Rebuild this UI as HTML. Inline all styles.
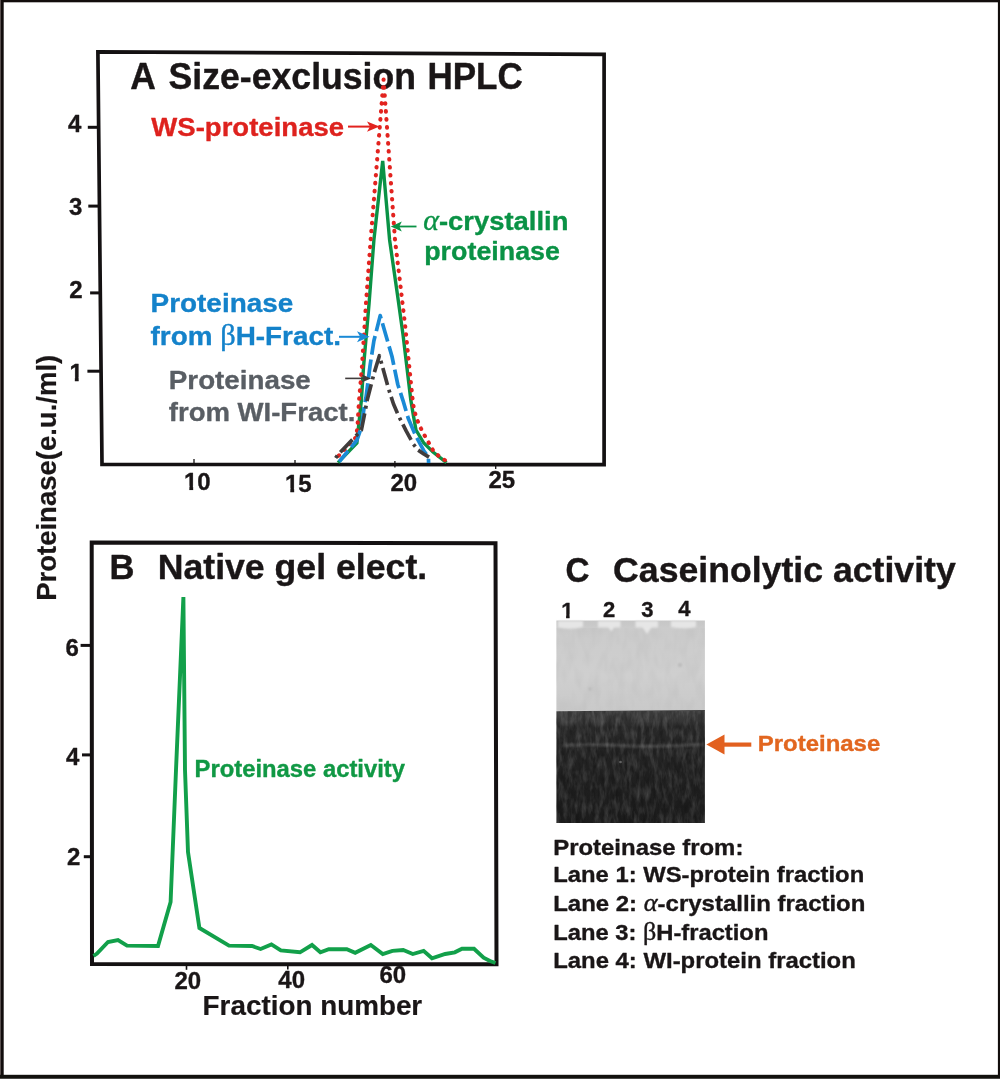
<!DOCTYPE html>
<html lang="en">
<head>
<meta charset="utf-8">
<title>Proteinase figure</title>
<style>
  html, body { margin: 0; padding: 0; background: #ffffff; }
  body { width: 1000px; height: 1079px; overflow: hidden; }
  svg { display: block; }
  text { font-family: "Liberation Sans", Arial, Helvetica, sans-serif; font-weight: bold; }
  .sym { font-family: "Liberation Serif", "DejaVu Serif", serif; font-weight: normal; }
  text { stroke-width: 0.35px; stroke-linejoin: round; }
  .k { fill: #1a1617; stroke: #1a1617; }
  .red { fill: #de221e; stroke: #de221e; }
  .grn { fill: #0a9245; stroke: #0a9245; }
  .blu { fill: #1482ca; stroke: #1482ca; }
  .gry { fill: #595e64; stroke: #595e64; }
  .org { fill: #e2661f; stroke: #e2661f; }
  .sym { stroke-width: 0.4px; }
  .title { font-size: 36px; stroke-width: 0.4px; }
  .lab { font-size: 26.6px; stroke-width: 0.35px; }
  .tick { font-size: 24px; stroke-width: 0.12px; }
  .body { font-size: 22.7px; stroke-width: 0.1px; }
</style>
</head>
<body>
<svg width="1000" height="1079" viewBox="0 0 1000 1079">
  <defs>
    <linearGradient id="gelLight" x1="0" y1="0" x2="0" y2="1">
      <stop offset="0" stop-color="#c6c6c6"/>
      <stop offset="0.08" stop-color="#cbcbcb"/>
      <stop offset="0.6" stop-color="#cfcfcf"/>
      <stop offset="1" stop-color="#c9c9c9"/>
    </linearGradient>
    <linearGradient id="gelDark" x1="0" y1="0" x2="0" y2="1">
      <stop offset="0" stop-color="#3f3f3f"/>
      <stop offset="0.10" stop-color="#363636"/>
      <stop offset="0.15" stop-color="#282828"/>
      <stop offset="0.32" stop-color="#252525"/>
      <stop offset="0.6" stop-color="#202020"/>
      <stop offset="1" stop-color="#1c1c1c"/>
    </linearGradient>
    <clipPath id="one" clipPathUnits="userSpaceOnUse">
      <path d="M-1 -20 H16 V-3.8 H9.15 V1 H5.35 V-3.8 H-1 Z"/>
    </clipPath>
    <filter id="grain" x="0" y="0" width="100%" height="100%">
      <feTurbulence type="fractalNoise" baseFrequency="0.22 0.07" numOctaves="3" seed="7" result="n"/>
      <feColorMatrix in="n" type="matrix" values="0 0 0 0 1  0 0 0 0 1  0 0 0 0 1  0.32 0 0 0 -0.13"/>
    </filter>
    <filter id="grainD" x="0" y="0" width="100%" height="100%">
      <feTurbulence type="fractalNoise" baseFrequency="0.25 0.08" numOctaves="3" seed="11" result="n"/>
      <feColorMatrix in="n" type="matrix" values="0 0 0 0 0  0 0 0 0 0  0 0 0 0 0  0.5 0 0 0 -0.2"/>
    </filter>
    <filter id="bandblur" filterUnits="userSpaceOnUse" x="556" y="734" width="150" height="22">
      <feGaussianBlur stdDeviation="1.6 1.1"/>
    </filter>
    <filter id="grainL" x="0" y="0" width="100%" height="100%">
      <feTurbulence type="fractalNoise" baseFrequency="0.12 0.05" numOctaves="2" seed="5" result="n"/>
      <feColorMatrix in="n" type="matrix" values="0 0 0 0 0.35  0 0 0 0 0.35  0 0 0 0 0.35  0.3 0 0 0 -0.11"/>
    </filter>
    <filter id="soft" x="-5%" y="-20%" width="110%" height="140%">
      <feGaussianBlur stdDeviation="1.1"/>
    </filter>
  </defs>

  <!-- page background and outer border -->
  <rect x="0" y="0" width="1000" height="1079" fill="#ffffff"/>
  <rect x="0" y="0" width="1000" height="2.3" fill="#120d0c"/>
  <rect x="0" y="0" width="3.7" height="1079" fill="#120d0c"/>
  <rect x="0" y="0" width="1" height="1079" fill="#5a5150"/>
  <rect x="997.9" y="0" width="2.1" height="1079" fill="#120d0c"/>
  <rect x="0" y="1074.8" width="1000" height="4.2" fill="#12110d"/>
  <rect x="0" y="1078" width="1000" height="1" fill="#4a4a47"/>

  <g id="figure">
  <!-- ================= PANEL A ================= -->
  <g id="panelA">
    <polygon points="97.9,51.8 604.1,54.3 604.1,464.7 102,464.4" fill="none" stroke="#141112" stroke-width="3.7" stroke-linejoin="miter"/>
    <!-- y ticks -->
    <g stroke="#141112" stroke-width="3">
      <line x1="87.8" y1="127.3" x2="98" y2="127.3"/>
      <line x1="88.3" y1="206.1" x2="99" y2="206.1"/>
      <line x1="90.1" y1="292.9" x2="100" y2="292.9"/>
      <line x1="87.4" y1="371.2" x2="101" y2="371.2"/>
    </g>
    <!-- x ticks (inside) -->
    <g stroke="#141112" stroke-width="1.3">
      <line x1="194" y1="459" x2="194" y2="464"/>
      <line x1="295" y1="460" x2="295" y2="464"/>
      <line x1="394.9" y1="461" x2="394.9" y2="467.6"/>
      <line x1="495.7" y1="464" x2="495.7" y2="469"/>
    </g>
    <g class="tick k">
      <text x="68" y="131.8">4</text>
      <text x="69" y="214.8">3</text>
      <text x="69.3" y="298">2</text>
      <g transform="translate(69.5 381.4)" clip-path="url(#one)"><text x="0" y="0">1</text></g>
      <g transform="translate(184 489.5)" clip-path="url(#one)"><text x="0" y="0">1</text></g><text x="197.35" y="489.5">0</text>
      <g transform="translate(285 492)" clip-path="url(#one)"><text x="0" y="0">1</text></g><text x="298.35" y="492">5</text>
      <text x="390.5" y="491">20</text>
      <text x="488.5" y="487.5">25</text>
    </g>

    <!-- title -->
    <text class="title k" x="130.3" y="88.7" textLength="25.6" lengthAdjust="spacingAndGlyphs">A</text>
    <text class="title k" x="168.6" y="88.7" textLength="247.4" lengthAdjust="spacingAndGlyphs">Size-exclusion</text>
    <text class="title k" x="427.4" y="88.7" textLength="95.4" lengthAdjust="spacingAndGlyphs">HPLC</text>

    <!-- curves -->
    <!-- green solid -->
    <polyline fill="none" stroke="#0a9245" stroke-width="3.4" stroke-linejoin="miter" stroke-miterlimit="10"
      points="338,462.6 356.9,443 358.2,430 361.4,400 363.6,366 369.1,303 373.9,240 382.7,161 389.6,240 397.5,295 403,334.5 410.8,400 413.4,415.6 416,430 423.8,443 433,452 446.5,462.6"/>
    <!-- red dotted -->
    <polyline fill="none" stroke="#e2231f" stroke-width="4.1" stroke-dasharray="0.5 7.5" stroke-dashoffset="3.77" stroke-linecap="round" stroke-linejoin="round"
      points="335.8,458.8 356.3,437 357.5,426 359,401 362,366 366,303 370.4,243 383.6,79.5 395,240 400.6,287 405.4,328 410,374 413.2,405 416,417 418.6,423.4 421.9,430.6 425.8,437.7 430,444.9 433.6,451.4 439.4,456.6 446.5,461.2"/>
    <!-- blue dashed -->
    <polyline fill="none" stroke="#1a8ad6" stroke-width="3.7" stroke-dasharray="19 5" stroke-dashoffset="5.2" stroke-linejoin="round"
      points="339.3,461.6 357,440 361.5,427 364.5,404.5 366,397.5 370,366 373.9,340.8 380.2,315.6 392,356.5 397.8,384.5 403,400.6 408.2,418.2 416,436.4 423.8,450.7 428.4,457.2 428.6,463"/>
    <!-- gray dash-dot -->
    <polyline fill="none" stroke="#403c3c" stroke-width="3.7" stroke-dasharray="17.5 5 3 4.5" stroke-dashoffset="22.0" stroke-linejoin="round"
      points="335.4,458.5 338,454.6 354.3,437.7 361.4,430 364,417 367.2,400 373.9,373.9 379.4,355.7 388.8,389.6 393.5,404 399.1,417 406.3,431.2 413.4,444.2 418,450 423.8,454 429,457.2"/>

    <!-- labels -->
    <text class="lab red" x="151.3" y="135.6" textLength="192.8" lengthAdjust="spacingAndGlyphs">WS-proteinase</text>
    <g stroke="#e2231f" fill="#e2231f">
      <line x1="348" y1="126.6" x2="372" y2="126.6" stroke-width="2"/>
      <path d="M379.5 126.6 L367 121.4 L370 126.6 L367 131.8 Z" stroke="none"/>
    </g>

    <text class="lab grn" x="423.3" y="229.6" textLength="145.1" lengthAdjust="spacingAndGlyphs"><tspan class="sym" font-size="29" font-style="italic">α</tspan>-crystallin</text>
    <text class="lab grn" x="424.2" y="260.1" textLength="135.8" lengthAdjust="spacingAndGlyphs">proteinase</text>
    <g stroke="#0a9245" fill="#0a9245">
      <line x1="397" y1="226.5" x2="416.5" y2="226.5" stroke-width="1.8"/>
      <path d="M390.8 226.5 L401.8 221.5 L399.3 226.5 L401.8 231.5 Z" stroke="none"/>
    </g>

    <text class="lab blu" x="150.5" y="311.6" textLength="142.8" lengthAdjust="spacingAndGlyphs">Proteinase</text>
    <text class="lab blu" x="150.5" y="344.8" textLength="190.5" lengthAdjust="spacingAndGlyphs">from <tspan class="sym" font-size="29">β</tspan>H-Fract.</text>
    <g stroke="#1a8ad6" fill="#1a8ad6">
      <line x1="339" y1="336.8" x2="362" y2="336.8" stroke-width="2"/>
      <path d="M369.6 336.8 L357 331.3 L360.2 336.8 L357 342.3 Z" stroke="none"/>
    </g>

    <text class="lab gry" x="168.8" y="389.3" textLength="142" lengthAdjust="spacingAndGlyphs">Proteinase</text>
    <text class="lab gry" x="168.8" y="420.6" textLength="186.5" lengthAdjust="spacingAndGlyphs">from WI-Fract.</text>
    <g stroke="#403c3c" fill="#403c3c">
      <line x1="345.2" y1="378.4" x2="365" y2="378.4" stroke-width="1.6"/>
      <path d="M371 378.4 L361.5 374.2 L364 378.4 L361.5 382.6 Z" stroke="none"/>
    </g>
  </g>

  <!-- shared y-axis label -->
  <text class="lab k" style="font-size:27.8px;stroke-width:0.2px" transform="translate(55.5 600.8) rotate(-90)" textLength="246" lengthAdjust="spacingAndGlyphs">Proteinase(e.u./ml)</text>

  <!-- ================= PANEL B ================= -->
  <g id="panelB">
    <polygon points="91.7,542.5 495.5,543.3 496.5,964.2 92,964.1" fill="none" stroke="#141112" stroke-width="4" stroke-linejoin="miter"/>
    <g stroke="#141112" stroke-width="3">
      <line x1="80.6" y1="645.4" x2="91" y2="645.4"/>
      <line x1="82" y1="754.9" x2="91" y2="754.9"/>
      <line x1="83.8" y1="856.7" x2="91" y2="856.7"/>
    </g>
    <g stroke="#141112" stroke-width="1.6">
      <line x1="186.5" y1="965" x2="186.5" y2="969.8"/>
      <line x1="287.8" y1="965" x2="287.8" y2="969.5"/>
    </g>
    <g class="tick k">
      <text x="65.5" y="656">6</text>
      <text x="66" y="764.6">4</text>
      <text x="67" y="864.6">2</text>
      <text x="174.5" y="989">20</text>
      <text x="278.3" y="988.3">40</text>
      <text x="379.5" y="982.5">60</text>
    </g>
    <text class="title k" style="font-size:35.2px" x="109.4" y="578.5" textLength="25" lengthAdjust="spacingAndGlyphs">B</text>
    <text class="title k" style="font-size:35.2px" x="157.7" y="578.5" textLength="269.5" lengthAdjust="spacingAndGlyphs">Native gel elect.</text>

    <polyline fill="none" stroke="#12a04a" stroke-width="3.9" stroke-linejoin="miter" stroke-miterlimit="10"
      points="93.5,956 97,953.6 108,942 118,940 127,945.6 158,946 170.6,902 176,770 183.4,597 185,770 188,852 199.4,928 229,945.6 252,946 260.6,949 271.4,944.4 280.8,950.4 300,952.3 312,945 320.4,952.3 328.8,949.2 346.8,949.2 355.2,952.8 370.8,945 382.8,954 392.4,950.9 403.2,950 412.8,954 423.6,950.9 432,958.3 445.2,954 454.8,952.3 462,948.7 474,948.7 483.6,957.6 490,961 495.5,963"/>

    <text class="grn" x="194.5" y="777.1" font-size="23.3" textLength="210.5" lengthAdjust="spacingAndGlyphs" style="fill:#109844;stroke:#109844">Proteinase activity</text>
    <text class="lab k" style="font-size:27.2px;stroke-width:0.2px" x="202.6" y="1014.7" textLength="219.6" lengthAdjust="spacingAndGlyphs">Fraction number</text>
  </g>

  <!-- ================= PANEL C ================= -->
  <g id="panelC">
    <text class="title k" style="font-size:35.2px" x="565.6" y="581.8" textLength="24" lengthAdjust="spacingAndGlyphs">C</text>
    <text class="title k" style="font-size:35.2px" x="613.1" y="581.8" textLength="342.7" lengthAdjust="spacingAndGlyphs">Caseinolytic activity</text>
    <g class="k" font-size="22">
      <g transform="translate(561.2 618) scale(0.9167)" clip-path="url(#one)"><text x="0" y="0" font-size="24">1</text></g>
      <text x="603" y="616.6">2</text>
      <text x="641.3" y="616.6">3</text>
      <text x="678.2" y="616.4">4</text>
    </g>
    <!-- gel -->
    <rect x="556.4" y="620.5" width="148.5" height="91" fill="url(#gelLight)"/>
    <path d="M556.4 711.2 L704.9 710 L704.9 823 L556.4 823 Z" fill="url(#gelDark)"/>
    <rect x="556.4" y="628" width="148.5" height="82" fill="#000" filter="url(#grainL)"/>
    <!-- wells -->
    <g fill="#e6e6e6" filter="url(#soft)">
      <path d="M558 621 H583 V627 Q570 630 558 627.5 Z"/>
      <path d="M598 621 H620.5 V627.5 H614 L611.3 631.5 L608.5 627.5 H598 Z"/>
      <path d="M635.5 621 H658 V627.5 H651.5 L647 634 L642.5 627.5 H635.5 Z"/>
      <path d="M671 621 H696 V627 Q684 629.5 671 627 Z"/>
    </g>
    <!-- specks -->
    <g fill="#b9b9b9" filter="url(#soft)">
      <circle cx="590" cy="689" r="1.8"/>
      <circle cx="680" cy="665" r="2"/>
    </g>
    <circle cx="620.5" cy="762" r="1.3" fill="#6a6a6a"/>
<!-- faint proteinase band -->
    <path d="M564 745.3 Q590 743.9 618 745.4 T668 745.8 T702 744.6" fill="none" stroke="#4a4a4a" stroke-width="2.8" stroke-linecap="round" filter="url(#bandblur)"/>
    <!-- film grain -->
    <rect x="556.4" y="711.5" width="148.5" height="111.5" fill="#ffffff" filter="url(#grain)"/>
    <rect x="556.4" y="711.5" width="148.5" height="111.5" fill="#000000" filter="url(#grainD)"/>
    <!-- arrow -->
    <g fill="#e2601f" stroke="#e2601f">
      <line x1="722" y1="744.6" x2="751.3" y2="744.6" stroke-width="4.2"/>
      <path d="M706.4 744.6 L724.5 734.6 L724.5 754.6 Z" stroke="none"/>
    </g>
    <text class="org" x="757.8" y="751.4" font-size="22.7" textLength="122.4" lengthAdjust="spacingAndGlyphs">Proteinase</text>

    <g class="body k">
      <text x="553.2" y="855.3" textLength="190.2" lengthAdjust="spacingAndGlyphs">Proteinase from:</text>
      <text x="553.2" y="881.8" textLength="311" lengthAdjust="spacingAndGlyphs">Lane 1: WS-protein fraction</text>
      <text x="553.2" y="910.7" textLength="312.2" lengthAdjust="spacingAndGlyphs">Lane 2: <tspan class="sym" font-size="25" font-style="italic">α</tspan>-crystallin fraction</text>
      <text x="553.2" y="940.2" textLength="215.2" lengthAdjust="spacingAndGlyphs">Lane 3: <tspan class="sym" font-size="25">β</tspan>H-fraction</text>
      <text x="553.2" y="968.1" textLength="302.6" lengthAdjust="spacingAndGlyphs">Lane 4: WI-protein fraction</text>
    </g>
  </g>
  </g>
</svg>
</body>
</html>
